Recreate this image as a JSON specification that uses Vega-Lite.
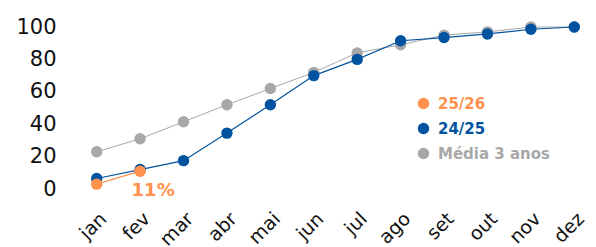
{
  "$schema": "https://vega.github.io/schema/vega-lite/v6.json",
  "autosize": {"type": "none"},
  "width": 521,
  "height": 162,
  "padding": {"left": 75, "top": 27, "right": 0, "bottom": 58},
  "background": "white",
  "config": {"view": {"stroke": null}, "scale": {"pointPadding": 0.5}},
  "data": {"values": [
    {"mes": "jan", "serie": "Média 3 anos", "valor": 23},
    {"mes": "fev", "serie": "Média 3 anos", "valor": 31},
    {"mes": "mar", "serie": "Média 3 anos", "valor": 41.5},
    {"mes": "abr", "serie": "Média 3 anos", "valor": 52},
    {"mes": "mai", "serie": "Média 3 anos", "valor": 62},
    {"mes": "jun", "serie": "Média 3 anos", "valor": 72},
    {"mes": "jul", "serie": "Média 3 anos", "valor": 84},
    {"mes": "ago", "serie": "Média 3 anos", "valor": 89},
    {"mes": "set", "serie": "Média 3 anos", "valor": 95},
    {"mes": "out", "serie": "Média 3 anos", "valor": 97},
    {"mes": "nov", "serie": "Média 3 anos", "valor": 100},
    {"mes": "dez", "serie": "Média 3 anos", "valor": 100},
    {"mes": "jan", "serie": "24/25", "valor": 6.5},
    {"mes": "fev", "serie": "24/25", "valor": 12},
    {"mes": "mar", "serie": "24/25", "valor": 17.5},
    {"mes": "abr", "serie": "24/25", "valor": 34.5},
    {"mes": "mai", "serie": "24/25", "valor": 52},
    {"mes": "jun", "serie": "24/25", "valor": 70},
    {"mes": "jul", "serie": "24/25", "valor": 80},
    {"mes": "ago", "serie": "24/25", "valor": 91.5},
    {"mes": "set", "serie": "24/25", "valor": 93.5},
    {"mes": "out", "serie": "24/25", "valor": 95.7},
    {"mes": "nov", "serie": "24/25", "valor": 98.6},
    {"mes": "dez", "serie": "24/25", "valor": 100},
    {"mes": "jan", "serie": "25/26", "valor": 3},
    {"mes": "fev", "serie": "25/26", "valor": 11, "rotulo": "11%"}
  ]},
  "encoding": {
    "x": {"field": "mes", "type": "ordinal", "scale": {"type": "point", "domain": ["jan","fev","mar","abr","mai","jun","jul","ago","set","out","nov","dez"]},
      "axis": {"title": null, "domain": false, "ticks": false, "labelAngle": -45, "labelFont": "DejaVu Sans", "labelFontSize": 19, "labelColor": "#111111", "labelPadding": 20}},
    "y": {"field": "valor", "type": "quantitative", "scale": {"domain": [0, 100], "nice": false},
      "axis": {"title": null, "domain": false, "ticks": false, "grid": false, "values": [0,20,40,60,80,100], "labelFont": "DejaVu Sans", "labelFontSize": 21, "labelColor": "#111111", "labelPadding": 19}},
    "color": {"field": "serie", "type": "nominal",
      "scale": {"domain": ["25/26", "24/25", "Média 3 anos"], "range": ["#FF914D", "#00539F", "#A8A8A8"]},
      "legend": {"title": null, "orient": "none", "legendX": 341, "legendY": 69, "symbolType": "circle", "symbolSize": 130, "symbolStrokeWidth": 0, "symbolOpacity": 1, "labelFont": "DejaVu Sans", "labelFontWeight": "bold", "labelFontSize": 15, "labelOffset": 7, "rowPadding": 9,
        "encode": {"labels": {"update": {"fill": {"signal": "scale('color', datum.value)"}}}, "symbols": {"update": {"fillOpacity": {"value": 1}}}}}}
  },
  "layer": [
    {"transform": [{"filter": "datum.serie == 'Média 3 anos'"}], "mark": {"type": "line", "strokeWidth": 1, "point": {"size": 130, "filled": true, "opacity": 1}}},
    {"transform": [{"filter": "datum.serie == '24/25'"}], "mark": {"type": "line", "strokeWidth": 1.2, "point": {"size": 130, "filled": true, "opacity": 1}}},
    {"transform": [{"filter": "datum.serie == '25/26'"}], "mark": {"type": "line", "strokeWidth": 1.2, "point": {"size": 130, "filled": true, "opacity": 1}}},
    {"transform": [{"filter": "datum.rotulo != null"}], "mark": {"type": "text", "font": "DejaVu Sans", "fontWeight": "bold", "fontSize": 18, "dx": 13, "dy": 20, "color": "#FF914D"}, "encoding": {"text": {"field": "rotulo"}, "color": {"value": "#FF914D"}}}
  ]
}
